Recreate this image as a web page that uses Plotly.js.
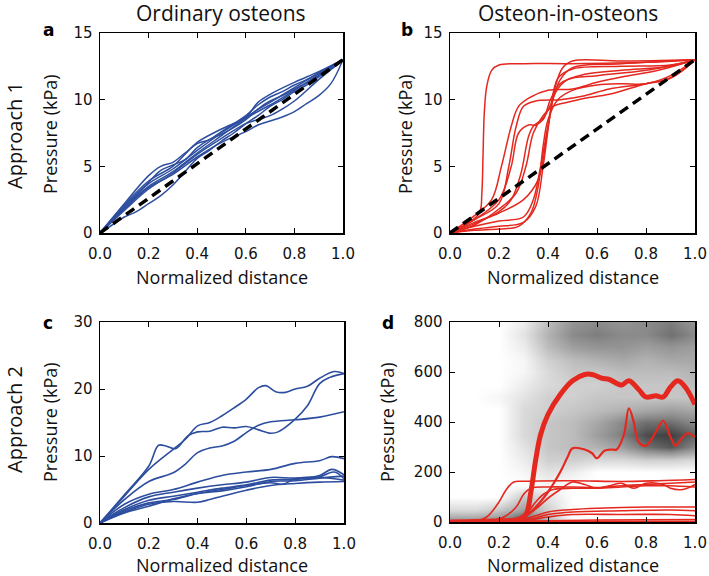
<!DOCTYPE html>
<html>
<head>
<meta charset="utf-8">
<script src="https://cdn.plot.ly/plotly-3.0.1.min.js"></script>
<style>html,body{margin:0;padding:0;background:#fff}#chart{width:709px;height:576px}</style>
</head>
<body>
<div id="chart"></div>
<script>
// ---------- DATA ----------
const xTicks = [0, 0.2, 0.4, 0.6, 0.8, 1.0];
const yTicksAB = [0, 5, 10, 15];
const yTicksC = [0, 10, 20, 30];
const yTicksD = [0, 200, 400, 600, 800];

// reference (uniform gradient) line, approach 1
const refLine = [[0, 0], [1, 13]];

// panel a: ordinary osteons, approach 1 (x, kPa)
const panelA = [
  [[0,0],[0.1,2.2],[0.2,4.3],[0.25,5.0],[0.3,5.3],[0.35,6.0],[0.4,6.7],[0.45,7.0],[0.5,7.6],[0.55,8.2],[0.6,8.8],[0.65,9.6],[0.7,10.2],[0.75,10.6],[0.8,11.1],[0.85,11.5],[0.9,12.0],[0.95,12.5],[1,13]],
  [[0,0],[0.1,2.0],[0.2,3.8],[0.25,4.7],[0.3,5.1],[0.35,5.5],[0.4,6.4],[0.45,7.0],[0.5,7.4],[0.55,7.9],[0.6,8.5],[0.65,9.3],[0.7,9.9],[0.75,10.3],[0.8,10.8],[0.85,11.3],[0.9,11.9],[0.95,12.4],[1,13]],
  [[0,0],[0.1,1.9],[0.2,3.5],[0.3,4.6],[0.4,6.0],[0.5,7.3],[0.6,8.6],[0.7,9.6],[0.8,10.7],[0.9,11.8],[1,13]],
  [[0,0],[0.05,0.6],[0.1,1.2],[0.15,1.6],[0.2,2.2],[0.25,2.8],[0.3,3.6],[0.35,4.6],[0.4,5.6],[0.45,6.2],[0.5,6.9],[0.55,7.5],[0.6,8.2],[0.65,8.8],[0.7,9.5],[0.75,10.0],[0.8,10.6],[0.85,11.1],[0.9,11.7],[0.95,12.3],[1,13]],
  [[0,0],[0.1,1.8],[0.2,3.4],[0.3,4.4],[0.4,5.7],[0.5,6.8],[0.6,7.6],[0.65,8.1],[0.7,8.4],[0.75,8.7],[0.8,9.1],[0.85,9.7],[0.9,10.3],[0.95,11.2],[1,13]],
  [[0,0],[0.1,1.7],[0.2,3.3],[0.3,4.5],[0.4,5.9],[0.5,7.1],[0.6,8.2],[0.65,8.5],[0.7,8.8],[0.75,9.3],[0.8,9.9],[0.9,11.5],[1,13]],
  [[0,0],[0.1,2.1],[0.2,3.9],[0.3,5.0],[0.35,5.9],[0.4,6.8],[0.5,7.8],[0.6,8.7],[0.65,9.8],[0.7,10.4],[0.8,11.3],[0.9,12.1],[1,13]],
  [[0,0],[0.1,1.9],[0.2,3.7],[0.3,4.8],[0.4,6.2],[0.5,7.5],[0.6,8.7],[0.7,9.8],[0.8,10.9],[0.9,12.0],[1,13]]
];

// panel b: osteon-in-osteons, approach 1
const panelB = [
  [[0,0],[0.06,0.6],[0.12,1.5],[0.13,3],[0.135,6],[0.14,9],[0.15,11],[0.17,12.2],[0.2,12.6],[0.3,12.7],[0.5,12.7],[0.8,12.8],[1,13]],
  [[0,0],[0.1,0.8],[0.2,1.5],[0.3,2.5],[0.36,4],[0.4,8],[0.43,11],[0.46,12.4],[0.5,12.9],[0.7,12.9],[1,13]],
  [[0,0],[0.1,0.3],[0.2,0.5],[0.3,0.8],[0.35,2],[0.38,5],[0.41,9],[0.44,11.6],[0.5,12.3],[0.7,12.5],[0.9,12.6],[1,13]],
  [[0,0],[0.1,0.5],[0.2,0.9],[0.3,1.2],[0.34,2.5],[0.37,5],[0.4,8],[0.43,10.5],[0.48,11.5],[0.6,11.8],[0.8,12.2],[1,13]],
  [[0,0],[0.1,1],[0.2,2.5],[0.25,5],[0.28,7.5],[0.32,8.1],[0.35,8.1],[0.38,8.5],[0.41,10],[0.45,11.2],[0.55,11.9],[0.7,12.2],[0.9,12.5],[1,13]],
  [[0,0],[0.1,1.3],[0.17,2.5],[0.21,5],[0.25,8],[0.28,9.5],[0.33,10.2],[0.4,10.7],[0.5,10.8],[0.6,11.3],[0.7,11.7],[0.85,12.2],[1,13]],
  [[0,0],[0.1,1],[0.2,2.2],[0.24,5],[0.27,8],[0.3,9.5],[0.35,9.9],[0.45,10],[0.55,10.3],[0.65,10.8],[0.8,11.2],[0.9,11.6],[1,13]],
  [[0,0],[0.1,0.6],[0.2,1.8],[0.27,3],[0.31,5],[0.34,7.5],[0.38,8.8],[0.42,9.5],[0.48,9.8],[0.55,10.1],[0.65,10.4],[0.8,11.2],[0.88,11.5],[0.95,12.2],[1,13]],
  [[0,0],[0.1,0.2],[0.2,0.3],[0.28,0.5],[0.33,1.5],[0.36,3.5],[0.38,6.5],[0.4,8.5],[0.44,10],[0.5,10.7],[0.6,11.1],[0.7,11.2],[0.8,11.2],[0.9,11.8],[1,13]],
  [[0,0],[0.1,0.7],[0.2,1.6],[0.25,2.5],[0.29,4.5],[0.32,7.2],[0.34,8],[0.38,8.6],[0.41,9.6],[0.45,11.5],[0.5,12.4],[0.7,12.7],[1,13]]
];

// panel c: ordinary osteons, approach 2
const panelC = [
  [[0,0],[0.1,4],[0.2,8],[0.3,11],[0.35,12.5],[0.4,14.5],[0.45,15],[0.5,16],[0.55,17.2],[0.6,18.5],[0.65,20.2],[0.68,20.5],[0.72,19.6],[0.76,19.5],[0.8,20],[0.85,20.4],[0.9,21.6],[0.96,22.6],[1,22.3]],
  [[0,0],[0.1,4.2],[0.2,8.5],[0.24,11.6],[0.27,11.5],[0.31,11.1],[0.36,13],[0.4,13.6],[0.45,13.7],[0.5,14.3],[0.55,14.2],[0.6,14.4],[0.65,13.9],[0.7,13.4],[0.73,13.6],[0.8,15.5],[0.85,17.5],[0.9,20.8],[0.94,21.7],[1,22.3]],
  [[0,0],[0.1,3.5],[0.2,6.2],[0.3,7.5],[0.35,8.8],[0.4,10.5],[0.45,11.2],[0.5,11.5],[0.55,12.2],[0.6,13.5],[0.65,14.6],[0.7,15.1],[0.8,15.4],[0.9,15.8],[1,16.6]],
  [[0,0],[0.1,2.8],[0.2,4.3],[0.3,5],[0.4,6.1],[0.5,7.1],[0.6,7.6],[0.7,8],[0.8,8.9],[0.9,9.3],[0.95,9.9],[1,9.6]],
  [[0,0],[0.1,2.3],[0.2,3.9],[0.3,4.6],[0.4,5.2],[0.5,5.7],[0.6,6.1],[0.7,6.8],[0.8,6.7],[0.9,7.1],[0.95,8],[1,7.2]],
  [[0,0],[0.1,2],[0.2,3.4],[0.3,4],[0.4,4.6],[0.5,5.2],[0.6,5.7],[0.7,6.4],[0.8,6.5],[0.9,6.9],[0.96,7.6],[1,6.6]],
  [[0,0],[0.1,1.8],[0.2,3],[0.3,3.5],[0.4,4.4],[0.5,5],[0.6,5.6],[0.7,6],[0.75,5.8],[0.8,6.6],[0.9,6.8],[1,6.4]],
  [[0,0],[0.1,1.6],[0.2,2.8],[0.3,3.2],[0.4,3.1],[0.45,3.5],[0.5,4],[0.6,4.9],[0.7,5.6],[0.8,5.9],[0.9,6.1],[1,6.2]],
  [[0,0],[0.1,1.5],[0.2,2.5],[0.3,3.6],[0.4,4.4],[0.5,4.8],[0.6,5.4],[0.7,6.2],[0.8,6.3],[0.9,6.7],[1,7]]
];

// panel d: osteon-in-osteons, approach 2 (first = thick mean line, second = medium)
const panelDThick = [[0,0],[0.2,5],[0.28,10],[0.31,30],[0.33,120],[0.35,250],[0.37,350],[0.4,430],[0.45,510],[0.5,565],[0.55,590],[0.58,590],[0.62,575],[0.65,570],[0.7,548],[0.73,565],[0.77,530],[0.8,500],[0.84,505],[0.87,500],[0.9,540],[0.93,565],[0.96,540],[1,470]];
const panelDMedium = [[0,0],[0.2,3],[0.3,20],[0.35,60],[0.4,120],[0.45,200],[0.48,260],[0.5,295],[0.55,290],[0.58,275],[0.6,255],[0.63,285],[0.66,290],[0.68,290],[0.71,350],[0.73,455],[0.75,400],[0.77,320],[0.8,305],[0.84,360],[0.87,405],[0.9,340],[0.92,305],[0.95,340],[0.97,355],[1,340]];
const panelDThin = [
  [[0,0],[0.1,2],[0.15,20],[0.2,80],[0.23,130],[0.26,160],[0.3,163],[0.5,165],[0.7,162],[0.85,165],[1,170]],
  [[0,0],[0.15,2],[0.22,20],[0.27,60],[0.3,110],[0.33,135],[0.4,140],[0.5,140],[0.6,138],[0.7,145],[0.8,150],[0.9,155],[1,160]],
  [[0,0],[0.2,5],[0.3,20],[0.36,60],[0.4,95],[0.45,130],[0.5,160],[0.55,150],[0.6,135],[0.65,145],[0.7,155],[0.75,135],[0.8,155],[0.87,150],[0.9,135],[0.95,130],[1,150]],
  [[0,0],[0.2,5],[0.3,25],[0.35,80],[0.38,110],[0.42,130],[0.5,135],[0.6,135],[0.7,140],[0.8,145],[0.9,145],[1,140]],
  [[0,0],[0.2,2],[0.3,10],[0.35,25],[0.4,40],[0.5,50],[0.6,55],[0.8,60],[0.9,60],[1,60]],
  [[0,0],[0.3,5],[0.4,30],[0.5,40],[0.7,45],[0.9,48],[1,45]],
  [[0,0],[0.3,5],[0.4,20],[0.5,30],[0.7,30],[0.9,30],[1,25]],
  [[0,0],[0.3,2],[0.4,5],[0.6,8],[1,10]],
  [[0,3],[0.5,3],[1,3]]
];

// panel d background: density of pressure samples (0 = none, 1 = densest)
const densX = [0, 0.1, 0.2, 0.3, 0.4, 0.5, 0.6, 0.7, 0.8, 0.9, 1.0];
const densY = [0, 50, 100, 150, 200, 250, 300, 350, 400, 450, 500, 550, 600, 650, 700, 750, 800];
const densZ = [
  [0.6,0.6,0.65,0.95,0.4,0,0,0,0,0,0],
  [0.2,0.2,0.3,0.5,0.25,0,0,0,0,0,0],
  [0,0,0,0.3,0.15,0,0,0,0,0,0],
  [0,0,0,0,0.05,0,0,0,0,0,0],
  [0,0,0,0.05,0.15,0.1,0,0,0,0,0],
  [0,0,0,0.1,0.25,0.25,0.2,0.2,0.25,0.25,0.2],
  [0,0,0,0.15,0.3,0.35,0.4,0.5,0.7,0.8,0.6],
  [0,0,0,0.2,0.3,0.35,0.5,0.65,0.85,0.9,0.75],
  [0,0,0,0.2,0.3,0.35,0.45,0.6,0.7,0.7,0.6],
  [0,0,0,0.2,0.25,0.3,0.35,0.4,0.45,0.5,0.45],
  [0,0,0.05,0.15,0.25,0.25,0.3,0.3,0.3,0.3,0.3],
  [0,0,0,0.1,0.2,0.25,0.25,0.3,0.3,0.3,0.35],
  [0,0,0,0.05,0.2,0.3,0.3,0.35,0.35,0.35,0.4],
  [0,0,0,0.05,0.25,0.35,0.4,0.45,0.4,0.45,0.45],
  [0,0,0,0.1,0.35,0.5,0.55,0.55,0.5,0.55,0.5],
  [0,0,0,0.15,0.4,0.6,0.65,0.6,0.6,0.7,0.6],
  [0,0,0,0.1,0.35,0.55,0.6,0.55,0.6,0.65,0.55]
];

// ---------- STYLE ----------
const BLUE = '#2d4e9f';
const RED = '#e4281f';
const W = 709, H = 576;
const px = v => v / W;
const py = v => 1 - v / H;

function line(pts, xa, ya, color, width, dash) {
  return {
    type: 'scatter', mode: 'lines',
    x: pts.map(p => p[0]), y: pts.map(p => p[1]),
    xaxis: xa, yaxis: ya,
    line: {color: color, width: width, shape: dash ? 'linear' : 'spline', smoothing: 1, dash: dash || 'solid'},
    hoverinfo: 'skip', showlegend: false
  };
}

const traces = [];
panelA.forEach(s => traces.push(line(s, 'x', 'y', BLUE, 1.5)));
traces.push(line(refLine, 'x', 'y', '#000', 3.5, '10px,6px'));
panelB.forEach(s => traces.push(line(s, 'x2', 'y2', RED, 1.5)));
traces.push(line(refLine, 'x2', 'y2', '#000', 3.5, '10px,6px'));
panelC.forEach(s => traces.push(line(s, 'x3', 'y3', BLUE, 1.6)));
traces.push({
  type: 'heatmap', x: densX, y: densY, z: densZ, xaxis: 'x4', yaxis: 'y4',
  zmin: 0, zmax: 1, zsmooth: 'best', showscale: false, hoverinfo: 'skip',
  colorscale: [[0,'#ffffff'],[0.08,'#f0f0f0'],[0.3,'#c6c6c6'],[0.6,'#8a8a8a'],[1,'#262626']]
});
panelDThin.forEach(s => traces.push(line(s, 'x4', 'y4', RED, 1.6)));
traces.push(line(panelDMedium, 'x4', 'y4', RED, 2.2));
traces.push(line(panelDThick, 'x4', 'y4', RED, 5));

const tickFont = {family: 'DejaVu Sans', size: 15, color: '#111'};
function xax(x0, x1, anchor) {
  return {
    domain: [px(x0), px(x1)], anchor: anchor, range: [0, 1],
    tickvals: xTicks, ticktext: xTicks.map(v => v.toFixed(1)),
    ticks: 'inside', ticklen: 5, tickwidth: 1, tickcolor: '#000', ticklabelstandoff: 6,
    showline: true, linecolor: '#000', linewidth: 1.5, mirror: 'allticks',
    showgrid: false, zeroline: false, fixedrange: true, tickfont: tickFont
  };
}
function yax(y0, y1, anchor, ticks) {
  return {
    domain: [py(y1), py(y0)], anchor: anchor, range: [ticks[0], ticks[ticks.length - 1]],
    tickvals: ticks, ticktext: ticks.map(String),
    ticks: 'inside', ticklen: 5, tickwidth: 1, tickcolor: '#000', ticklabelstandoff: 3,
    showline: true, linecolor: '#000', linewidth: 1.5, mirror: 'allticks',
    showgrid: false, zeroline: false, fixedrange: true, tickfont: tickFont
  };
}

const ann = [];
function text(t, x, y, size, opts) {
  ann.push(Object.assign({
    text: t, x: px(x), y: py(y), xref: 'paper', yref: 'paper',
    xanchor: 'center', yanchor: 'middle', showarrow: false,
    font: {family: 'Open Sans', size: size, color: '#111'}
  }, opts || {}));
}
text('Ordinary osteons', 221, 13, 21);
text('Osteon-in-osteons', 568, 13, 21);
text('Approach 1', 14, 136, 20, {textangle: -90});
text('Approach 2', 14, 420, 20, {textangle: -90});
[[50, 134], [405, 134], [50, 422], [387, 422]].forEach(p => text('Pressure (kPa)', p[0], p[1], 18, {textangle: -90}));
[[222, 277], [573, 277], [222, 565], [573, 565]].forEach(p => text('Normalized distance', p[0], p[1], 18));
[['a', 48, 30], ['b', 407, 30], ['c', 48, 323], ['d', 388, 323]].forEach(p =>
  text('<b>' + p[0] + '</b>', p[1], p[2], 18, {font: {family: 'DejaVu Sans', size: 17, color: '#000'}}));

const layout = {
  width: W, height: H, margin: {l: 0, r: 0, t: 0, b: 0},
  paper_bgcolor: '#fff', plot_bgcolor: '#fff', showlegend: false,
  xaxis: xax(100, 343, 'y'), yaxis: yax(33, 233, 'x', yTicksAB),
  xaxis2: xax(450, 695, 'y2'), yaxis2: yax(33, 233, 'x2', yTicksAB),
  xaxis3: xax(100, 344, 'y3'), yaxis3: yax(322, 523, 'x3', yTicksC),
  xaxis4: xax(450, 695, 'y4'), yaxis4: yax(322, 522, 'x4', yTicksD),
  annotations: ann
};

Plotly.newPlot('chart', traces, layout, {staticPlot: true, displayModeBar: false});
</script>
</body>
</html>
